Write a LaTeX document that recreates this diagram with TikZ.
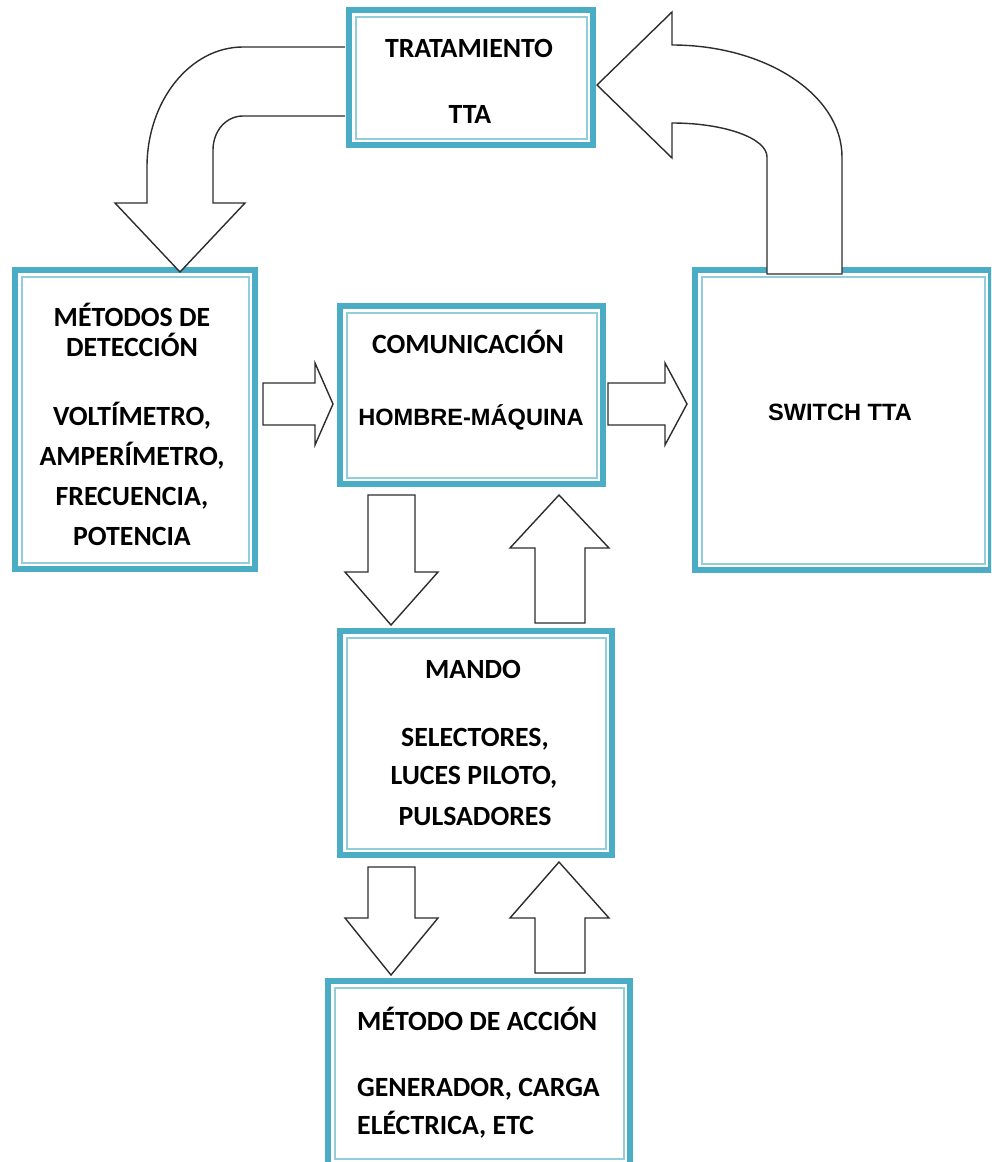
\documentclass[tikz,border=0pt]{standalone}
\usepackage{fontspec}
\newfontfamily\carl{Carlito}
\newfontfamily\arl{Liberation Sans}
\usetikzlibrary{calc}
\definecolor{tealband}{RGB}{75,172,198}
\definecolor{teallight}{RGB}{146,205,220}
\definecolor{arrowline}{RGB}{45,45,45}
\newcommand\mybox[5]{%
  \node[boxnode, minimum width={#4-#2-6}, minimum height={#5-#3-6}] (#1) at ({(#2+#4)/2},{(#3+#5)/2}) {};
  \draw[inline] ($(#1.north west)+(6.5,6.5)$) rectangle ($(#1.south east)+(-6.5,-6.5)$);
}
\begin{document}
\begin{tikzpicture}[x=1pt,y=-1pt,
  boxnode/.style={draw=tealband, line width=6pt, rectangle, inner sep=0pt, outer sep=0pt, fill=white},
  inline/.style={draw=teallight, line width=2pt},
  barrow/.style={draw=arrowline, line width=1.4pt, fill=white, line join=miter},
  lbl/.style={font=\carl\bfseries\fontsize{27.8}{32}\selectfont, inner sep=0pt, anchor=base},
  lbll/.style={lbl, anchor=base west},
  lbla/.style={font=\arl\bfseries\fontsize{23.6}{27}\selectfont, inner sep=0pt, anchor=base}]
\useasboundingbox (0,0) rectangle (991,1162);
\clip (0,0) rectangle (991,1162);

% boxes
\mybox{trat}{346}{7}{596}{148}
\mybox{det}{12}{267}{258}{572}
\mybox{com}{337}{303}{606}{487}
\mybox{sw}{692}{267}{994}{573}
\mybox{mando}{337}{628}{615}{858}
\mybox{acc}{325}{978}{633}{1168}

% curved arrow TRATAMIENTO -> DETECCION
\draw[barrow] (345,47) -- (243,47) .. controls (190,47) and (147,101) .. (147,167)
  -- (147,203) -- (115,203) -- (180,272) -- (245,203) -- (213,203) -- (213,150)
  .. controls (213,131) and (226,116) .. (243,116) -- (345,116);

% curved arrow SWITCH -> TRATAMIENTO
\draw[barrow] (767,274) -- (767,157) .. controls (767,138) and (724,123) .. (672,123)
  -- (672,158) -- (597,85) -- (672,12) -- (672,45)
  .. controls (766,45) and (842,95) .. (842,157) -- (842,274) -- cycle;

% straight arrows
\draw[barrow] (263,383) -- (315,383) -- (315,363) -- (333,404) -- (315,445) -- (315,425) -- (263,425) -- cycle;
\draw[barrow] (608,383) -- (665,383) -- (665,363) -- (687,404) -- (665,445) -- (665,425) -- (608,425) -- cycle;
\draw[barrow] (368,495) -- (415,495) -- (415,572) -- (438,572) -- (391,625) -- (345,572) -- (368,572) -- cycle;
\draw[barrow] (535,623) -- (535,548) -- (510,548) -- (559,495) -- (609,548) -- (585,548) -- (585,623) -- cycle;
\draw[barrow] (368,867) -- (415,867) -- (415,918) -- (438,918) -- (391,975) -- (345,918) -- (368,918) -- cycle;
\draw[barrow] (535,973) -- (535,918) -- (510,918) -- (559,862) -- (609,918) -- (585,918) -- (585,973) -- cycle;

% texts
\node[lbl] (t1) at (469,57) {TRATAMIENTO};
\node[lbl] (t2) at (470,123) {TTA};
\node[lbl] (d1) at (132,326) {MÉTODOS DE};
\node[lbl] (d2) at (132,356) {DETECCIÓN};
\node[lbl] (d3) at (132,425) {VOLTÍMETRO,};
\node[lbl] (d4) at (132,465) {AMPERÍMETRO,};
\node[lbl] (d5) at (132,505) {FRECUENCIA,};
\node[lbl] (d6) at (132,545) {POTENCIA};
\node[lbl] (c1) at (468,353) {COMUNICACIÓN};
\node[lbla] (c2) at (471,425) {HOMBRE-MÁQUINA};
\node[lbla] (s1) at (840,420) {SWITCH TTA};
\node[lbl] (m1) at (473,678) {MANDO};
\node[lbl] (m2) at (475,746) {SELECTORES,};
\node[lbl] (m3) at (474,784) {LUCES PILOTO,};
\node[lbl] (m4) at (475,825) {PULSADORES};
\node[lbll] (a1) at (357,1030) {MÉTODO DE ACCIÓN};
\node[lbll] (a2) at (357,1096) {GENERADOR, CARGA};
\node[lbll] (a3) at (357,1134) {ELÉCTRICA, ETC};
\end{tikzpicture}
\end{document}
